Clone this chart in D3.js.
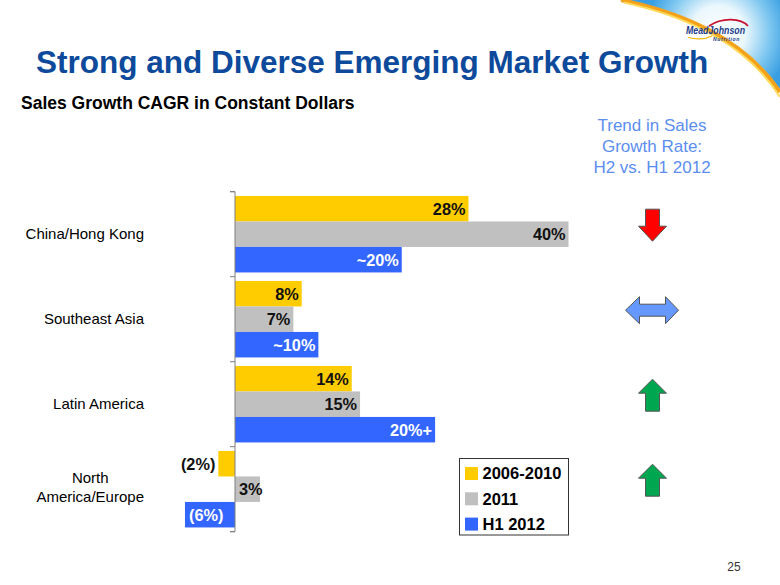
<!DOCTYPE html>
<html>
<head>
<meta charset="utf-8">
<script src="https://cdn.jsdelivr.net/npm/d3@7"></script>
<style>
  html, body { margin: 0; padding: 0; background: #ffffff; }
  svg { display: block; }
  text { font-family: Arial, "Liberation Sans", Helvetica, sans-serif; }
</style>
</head>
<body>
<svg id="chart" width="780" height="585"></svg>
<script>
// ---------- data ----------
const categories = ["China/Hong Kong", "Southeast Asia", "Latin America", "North America/Europe"];
const seriesNames = ["2006-2010", "2011", "H1 2012"];
const values2006_2010 = [28, 8, 14, -2];
const values2011 = [40, 7, 15, 3];
const valuesH1_2012 = [20, 10, 24, -6];
const labels2006_2010 = ["28%", "8%", "14%", "(2%)"];
const labels2011 = ["40%", "7%", "15%", "3%"];
const labelsH1_2012 = ["~20%", "~10%", "20%+", "(6%)"];
const trendDirections = ["down", "both", "up", "up"];

const title = "Strong and Diverse Emerging Market Growth";
const subtitle = "Sales Growth CAGR in Constant Dollars";
const trendTitle = ["Trend in Sales", "Growth Rate:", "H2 vs. H1 2012"];
const pageNumber = "25";

// ---------- styles ----------
const seriesColors = ["#ffcc00", "#c0c0c0", "#3366ff"];
const labelColors = ["#111111", "#111111", "#ffffff"];

const svg = d3.select("#chart");
const defs = svg.append("defs");

// ---------- header decoration ----------
const rg = defs.append("radialGradient").attr("id", "glow")
  .attr("cx", 718).attr("cy", 33).attr("r", 72).attr("gradientUnits", "userSpaceOnUse");
rg.append("stop").attr("offset", "0").attr("stop-color", "#ffffff");
rg.append("stop").attr("offset", "0.38").attr("stop-color", "#eaf7fd");
rg.append("stop").attr("offset", "0.72").attr("stop-color", "#7ec7f0");
rg.append("stop").attr("offset", "1").attr("stop-color", "#3a9fe2");

svg.append("path")
  .attr("d", "M620,0 C682,12 742,36 780,90 L780,0 Z")
  .attr("fill", "url(#glow)");
svg.append("path")
  .attr("d", "M621,0 C683,13 743,38 780,92")
  .attr("fill", "none").attr("stroke", "#f4a21a").attr("stroke-width", 4);
svg.append("path")
  .attr("d", "M624,2.5 C686,16 745,42 780,97")
  .attr("fill", "none").attr("stroke", "#ffd95a").attr("stroke-width", 2);

// logo
svg.append("path")
  .attr("d", "M709,26 C722,17 741,18 748,26")
  .attr("fill", "none").attr("stroke", "#c8102e").attr("stroke-width", 1.6);
svg.append("path")
  .attr("d", "M688,37.5 C698,40 706,39 712,36")
  .attr("fill", "none").attr("stroke", "#f5b400").attr("stroke-width", 1.2);
svg.append("text").attr("x", 686).attr("y", 34)
  .attr("font-size", 11).attr("font-weight", "bold").attr("font-style", "italic")
  .attr("textLength", 59).attr("lengthAdjust", "spacingAndGlyphs")
  .attr("fill", "#1d3c8a").text("MeadJohnson");
svg.append("text").attr("x", 713).attr("y", 40.5)
  .attr("font-size", 5).attr("font-weight", "bold").attr("font-style", "italic")
  .attr("fill", "#1d3c8a").attr("letter-spacing", 0.7).text("Nutrition");

// ---------- titles ----------
svg.append("text").attr("x", 36).attr("y", 72.5)
  .attr("font-size", 31.5).attr("font-weight", "bold").attr("fill", "#0d4a9b")
  .text(title);
svg.append("text").attr("x", 21).attr("y", 109)
  .attr("font-size", 17.5).attr("font-weight", "bold").attr("fill", "#000000")
  .text(subtitle);

svg.append("g").selectAll("text").data(trendTitle).join("text")
  .attr("x", 652).attr("y", (d, i) => 131 + i * 21)
  .attr("text-anchor", "middle").attr("font-size", 17).attr("fill", "#5b8ef0")
  .text(d => d);

svg.append("text").attr("x", 734).attr("y", 571)
  .attr("text-anchor", "middle").attr("font-size", 12).attr("fill", "#333333")
  .text(pageNumber);

// ---------- scales ----------
const x = d3.scaleLinear().domain([0, 40]).range([235, 568.5]);
const y = d3.scaleBand().domain(categories).range([191.7, 531.7]).padding(0);
const ySub = d3.scaleBand().domain(seriesNames).range([0, y.bandwidth()])
  .paddingInner(0).paddingOuter(1 / 6);

const seriesValues = [values2006_2010, values2011, valuesH1_2012];
const seriesLabels = [labels2006_2010, labels2011, labelsH1_2012];

const rows = [];
categories.forEach((c, ci) => {
  seriesNames.forEach((s, si) => {
    rows.push({ cat: c, series: s, si, value: seriesValues[si][ci], label: seriesLabels[si][ci] });
  });
});

// ---------- bars ----------
const gBars = svg.append("g");
gBars.selectAll("rect").data(rows).join("rect")
  .attr("x", d => Math.min(x(0), x(d.value)))
  .attr("y", d => y(d.cat) + ySub(d.series))
  .attr("width", d => Math.abs(x(d.value) - x(0)))
  .attr("height", ySub.bandwidth())
  .attr("fill", d => seriesColors[d.si]);

// ---------- axis (category) ----------
const yAxis = d3.axisLeft(y).tickSize(5).tickFormat("");
const gAxis = svg.append("g").attr("transform", `translate(${x(0)},0)`).call(yAxis);
gAxis.select(".domain").attr("stroke", "#7f7f7f").attr("d", `M-5,${191.7}H0V${531.7}H-5`);
gAxis.selectAll(".tick").remove();
const bounds = [];
categories.forEach(c => bounds.push(y(c)));
bounds.push(y(categories[categories.length - 1]) + y.bandwidth());
gAxis.selectAll("line.sep").data(bounds).join("line")
  .attr("class", "sep").attr("x1", -5).attr("x2", 0)
  .attr("y1", d => d).attr("y2", d => d)
  .attr("stroke", "#7f7f7f");

// category labels
const gCat = svg.append("g");
categories.forEach(c => {
  const cy = y(c) + y.bandwidth() / 2;
  const t = gCat.append("text").attr("font-size", 15).attr("fill", "#000")
    .attr("text-anchor", "end").attr("x", 144).attr("y", cy).attr("dy", "0.35em").text(c);
  const w = t.node().getComputedTextLength();
  if (w > 128) {
    t.remove();
    const sp = c.indexOf(" ");
    const lines = [c.slice(0, sp), c.slice(sp + 1)];
    const tmp = gCat.append("text").attr("font-size", 15).text(lines[1]);
    const mw = tmp.node().getComputedTextLength();
    tmp.remove();
    lines.forEach((ln, li) => {
      gCat.append("text").attr("font-size", 15).attr("fill", "#000")
        .attr("text-anchor", "middle").attr("x", 144 - mw / 2)
        .attr("y", cy + (li - 0.5) * 19 - 1.5).attr("dy", "0.35em").text(ln);
    });
  }
});

// ---------- value labels ----------
const gLab = svg.append("g");
rows.forEach(d => {
  const cy = y(d.cat) + ySub(d.series) + ySub.bandwidth() / 2;
  const t = gLab.append("text").attr("font-size", 16.3).attr("font-weight", "bold")
    .attr("y", cy).attr("dy", "0.36em").text(d.label);
  const w = t.node().getComputedTextLength();
  const barW = Math.abs(x(d.value) - x(0));
  if (d.value >= 0) {
    t.attr("text-anchor", "end").attr("x", Math.max(x(d.value) - 3, x(0) + w + 4))
      .attr("fill", labelColors[d.si]);
  } else if (barW >= w + 8) {
    t.attr("text-anchor", "start").attr("x", x(d.value) + 4).attr("fill", labelColors[d.si]);
  } else {
    t.attr("text-anchor", "end").attr("x", x(d.value) - 3).attr("fill", "#111111");
  }
});

// ---------- legend ----------
const gLeg = svg.append("g");
gLeg.append("rect").attr("x", 459.5).attr("y", 458.5).attr("width", 109).attr("height", 76.5)
  .attr("fill", "#ffffff").attr("stroke", "#333333").attr("stroke-width", 1);
seriesNames.forEach((s, i) => {
  const cy = 473.5 + i * 25.3;
  gLeg.append("rect").attr("x", 465).attr("y", cy - 6.5).attr("width", 13).attr("height", 13)
    .attr("fill", seriesColors[i]);
  gLeg.append("text").attr("x", 482.5).attr("y", cy).attr("dy", "0.36em")
    .attr("font-size", 16.5).attr("font-weight", "bold").attr("fill", "#000").text(s);
});

// ---------- trend arrows ----------
const arrowColors = { down: "#ff0000", up: "#00a650", both: "#6699ff" };
const gArr = svg.append("g");
categories.forEach((c, i) => {
  const dir = trendDirections[i];
  const cx = 652.5;
  const cy = y(c) + 33.5;
  let p;
  if (dir === "down") {
    p = [[-7, -16], [7, -16], [7, 1], [14, 1], [0, 16], [-14, 1], [-7, 1]];
  } else if (dir === "up") {
    p = [[0, -16], [14, -2], [7, -2], [7, 16], [-7, 16], [-7, -2], [-14, -2]];
  } else {
    p = [[-27, 0], [-13, -13.5], [-13, -6], [13, -6], [13, -13.5], [26, 0], [13, 13.5], [13, 6], [-13, 6], [-13, 13.5]];
  }
  gArr.append("path")
    .attr("d", d3.line()(p.map(q => [cx + q[0], cy + q[1]])) + "Z")
    .attr("fill", arrowColors[dir]).attr("stroke", "#555555").attr("stroke-width", 1);
});
</script>
</body>
</html>
